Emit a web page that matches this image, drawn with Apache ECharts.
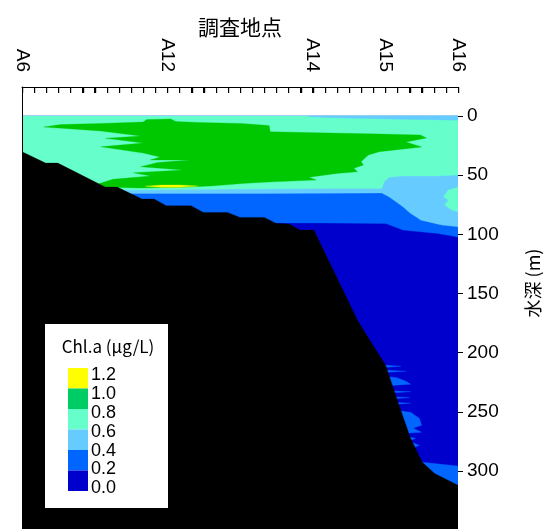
<!DOCTYPE html>
<html>
<head>
<meta charset="utf-8">
<script src="https://cdn.jsdelivr.net/npm/echarts@6/dist/echarts.min.js"></script>
<style>html,body{margin:0;padding:0;background:#fff;}#c{width:549px;height:529px;}</style>
</head>
<body>
<div id="c"></div>
<script>
// ---- axis content ----
const stations = ['A6', 'A12', 'A14', 'A15', 'A16'];
const stationKm = [0, 12, 24, 30, 36];
const depthTicks = [0, 50, 100, 150, 200, 250, 300];
const legendLevels = ['1.2', '1.0', '0.8', '0.6', '0.4', '0.2', '0.0'];
const legendColors = ['#FFFF00', '#00CC66', '#66FFCC', '#66CCFF', '#0066FF', '#0000CC'];
const kmTicks = [];
for (let k = 0; k <= 36; k++) kmTicks.push(k);
const depthMin = -24.5, depthMax = 349;

// ---- contour regions [km, depth m] ----
const regionAll = [[0, 0], [36, 0], [36, 360], [0, 360]]; // >= 0.0
const region02 = [[0, 0], [36, 0], [36, 102.3], [34.35, 99.4], [31.45, 96.4], [30.05, 90.9], [25, 90.5], [0, 90.5]];
const region04 = [[0, 0], [36, 0], [36, 93.6], [34.65, 92.2], [32.95, 88.0], [32.04, 82.0], [31.45, 76.7], [30.3, 68.3], [29.7, 65.1], [20, 65.5], [0, 65.5]];
const region06 = [[0, 0], [36, 0], [36, 49.9], [34.35, 50.7], [31.45, 50.7], [30.3, 51.8], [29.9, 55.6], [29.7, 61.2], [25, 61.3], [15, 62.0], [8, 62.5], [0, 62.5]];
const region06b = [[36, 60.3], [35.2, 62.6], [34.8, 68.3], [35.2, 71.0], [34.9, 75.3], [35.5, 79.5], [36, 80.9]];
const surface04 = [[23.68, 0], [36, 0], [36, 3.5], [31.3, 2.8], [25.5, 1.4], [23.68, 0.6]];
const region08 = [[1.8, 9.3], [6.5, 12.7], [9.8, 16.9], [6.9, 18.9], [10.0, 22.8], [6.5, 26.0], [10.0, 31.3], [11.4, 34.7], [10.6, 37.2], [13.9, 37.2], [11.2, 39.3], [9.8, 42.9], [13.3, 45.7], [9.2, 48.0], [10.6, 50.7], [7.5, 53.5], [6.0, 58.4], [6.9, 60.3], [9.8, 60.9], [13.3, 60.3], [15.6, 59.2], [18.5, 56.9], [20.8, 55.6], [24.3, 54.1], [23.7, 51.8], [26.0, 48.5], [27.7, 47.1], [27.4, 44.2], [28.2, 41.4], [28.0, 38.7], [28.3, 35.8], [28.6, 33.0], [29.5, 30.2], [33.0, 26.2], [31.7, 22.0], [33.4, 18.6], [32.9, 16.1], [29.6, 15.2], [25.5, 14.4], [20.5, 13.3], [20.4, 8.0], [18.1, 6.3], [14.7, 5.5], [12.7, 4.7], [12.3, 2.5], [10.3, 3.0], [10.0, 5.1], [6.5, 6.3], [3.2, 7.2]];
const region10 = [[10.2, 59.3], [11.5, 58.4], [13.0, 58.3], [14.5, 59.2], [13.0, 60.3], [11.5, 60.3]];
const streaks02 = [
  [[29.6, 210.2], [31.3, 211.5], [29.6, 212.7]],
  [[29.6, 214.4], [31.7, 215.7], [29.6, 216.9]],
  [[29.6, 220.0], [30.9, 220.9], [31.7, 224.1], [32.1, 226.7], [30.9, 227.5], [29.6, 228.4]],
  [[30.0, 231.9], [32.1, 233.0], [30.0, 234.3]],
  [[30.0, 236.8], [32.0, 238.1], [30.0, 239.4]],
  [[30.5, 241.9], [32.1, 242.7], [30.5, 244.0]],
  [[30.9, 248.7], [32.1, 250.4], [32.8, 255.4], [33.0, 261.4], [32.3, 263.9], [33.0, 267.3], [31.7, 268.1], [30.9, 265.6]],
  [[31.3, 269.8], [32.5, 272.3], [32.0, 274.9], [32.8, 278.3], [32.1, 281.7], [31.3, 284.2]],
  [[32.5, 292.0], [36, 295.8], [36, 340], [32.5, 340]]
];
const seafloor = [[0, 30.2], [1.95, 39.8], [2.96, 39.8], [6.87, 60.1], [7.86, 60.1], [9.9, 70.2], [10.9, 70.2], [11.92, 75.9], [13.96, 75.9], [14.97, 81.5], [16.97, 81.5], [18.0, 85.7], [20.0, 85.7], [21.0, 90.8], [22.06, 91.3], [22.93, 96.4], [24.09, 96.4], [27.7, 172.5], [28.28, 182.4], [30.02, 210.6], [30.3, 219], [31.18, 245.9], [31.76, 262.8], [32.04, 271.3], [33.03, 292.4], [34.07, 302.2], [36, 312.1], [36, 360], [0, 360]];

const mapColors = {c00: '#0000CC', c02: '#0066FF', c04: '#66CCFF', c06: '#66FFCC', c08: '#00C800', c10: '#FFFF00', floor: '#000000'};

function poly(points, color) {
  return {
    type: 'custom', xAxisIndex: 0, yAxisIndex: 0, clip: true, silent: true,
    data: [[points[0][0], points[0][1]]],
    renderItem: function (params, api) {
      return {type: 'polygon', shape: {points: points.map(p => api.coord(p))}, style: {fill: color, stroke: color, lineWidth: 0.3}};
    }
  };
}

const series = [
  poly(regionAll, mapColors.c00),
  poly(region02, mapColors.c02),
  poly(region04, mapColors.c04),
  poly(region06, mapColors.c06),
  poly(region06b, mapColors.c06),
  poly(surface04, mapColors.c04),
  poly(region08, mapColors.c08),
  poly(region10, mapColors.c10)
];
streaks02.forEach(s => series.push(poly(s, mapColors.c02)));
series.push(poly(seafloor, mapColors.floor));

// top frame ticks (one per km), hanging down from the top axis line
series.push({
  type: 'custom', xAxisIndex: 0, yAxisIndex: 0, clip: false, silent: true, z: 30,
  data: kmTicks.map(k => [k, depthMin]),
  renderItem: function (params, api) {
    const p = api.coord([api.value(0), api.value(1)]);
    return {type: 'rect', shape: {x: Math.round(p[0]), y: p[1], width: 1.2, height: 6}, style: {fill: '#000'}};
  }
});

const numFont = '"Liberation Sans", Arial, sans-serif';

// legend graphic built from arrays
const legendChildren = [
  {type: 'rect', z: 100, shape: {x: 45, y: 324, width: 123, height: 184}, style: {fill: '#fff'}},
  {type: 'text', z: 101, x: 108, y: 347, style: {text: 'Chl.a (μg/L)', font: '17px "Noto Sans CJK JP"', fill: '#000', align: 'center', verticalAlign: 'middle'}}
];
legendColors.forEach((c, i) => {
  legendChildren.push({type: 'rect', z: 101, shape: {x: 68, y: 368 + i * 20.5, width: 20, height: 20.5}, style: {fill: c}});
});
legendLevels.forEach((t, i) => {
  legendChildren.push({type: 'text', z: 101, x: 91, y: 375 + i * 18.9, style: {text: t, font: '18px ' + numFont, fill: '#000', align: 'left', verticalAlign: 'middle'}});
});

const chart = echarts.init(document.getElementById('c'), null, {renderer: 'canvas'});
chart.setOption({
  animation: false,
  backgroundColor: '#fff',
  grid: {left: 22, right: 91, top: 87, bottom: 0, containLabel: false},
  xAxis: {
    type: 'value', position: 'top', min: 0, max: 36, interval: 1, z: 20,
    name: '調査地点', nameLocation: 'middle', nameGap: 49, nameMoveOverlap: false,
    nameTextStyle: {fontSize: 21, fontFamily: 'Noto Sans CJK JP', color: '#000'},
    axisLine: {show: true, onZero: false, lineStyle: {color: '#000', width: 1}},
    axisTick: {show: true, inside: true, length: 6, lineStyle: {color: '#000', width: 1}},
    axisLabel: {
      customValues: stationKm, rotate: 90, margin: 15, fontSize: 19, fontFamily: numFont, color: '#000',
      formatter: v => { const i = stationKm.indexOf(v); return i >= 0 ? stations[i] : ''; }
    },
    splitLine: {show: false}
  },
  yAxis: [{
    type: 'value', position: 'right', inverse: true, min: depthMin, max: depthMax, z: 20,
    axisLine: {show: false, onZero: false},
    axisTick: {show: true, length: 5, customValues: depthTicks, lineStyle: {color: '#000'}},
    axisLabel: {customValues: depthTicks, margin: 9, fontSize: 19, fontFamily: numFont, color: '#000'},
    splitLine: {show: false}
  }, {
    type: 'value', position: 'left', inverse: true, min: depthMin, max: depthMax, z: 20,
    axisLine: {show: true, onZero: false, lineStyle: {color: '#000', width: 1}},
    axisTick: {show: false}, axisLabel: {show: false}, splitLine: {show: false}
  }],
  series: series,
  graphic: [
    {type: 'group', children: legendChildren},
    {type: 'text', x: 533, y: 283, rotation: Math.PI / 2, style: {text: '水深 (m)', font: '18px "Noto Sans CJK JP"', fill: '#000', align: 'center', verticalAlign: 'middle'}}
  ]
});
</script>
</body>
</html>
